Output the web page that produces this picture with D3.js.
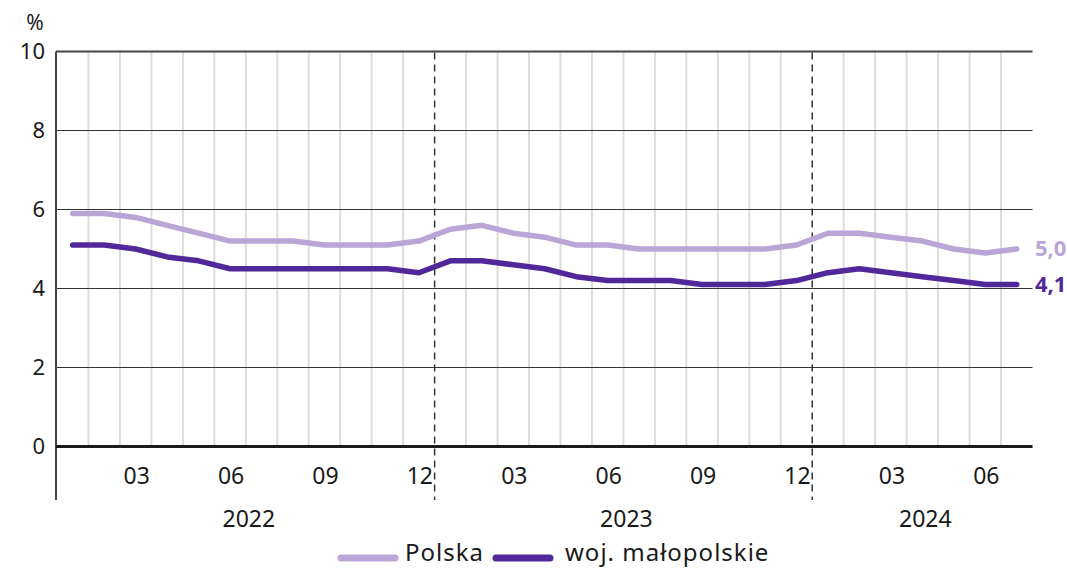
<!DOCTYPE html>
<html>
<head>
<meta charset="utf-8">
<script src="https://cdn.jsdelivr.net/npm/d3@7"></script>
<style>
  body { margin: 0; background: #fff; }
  svg { display: block; font-family: "Noto Sans", "Open Sans", sans-serif; }
</style>
</head>
<body>
<svg id="chart"></svg>
<script>
// miesiące I 2022 - VII 2024
var months = ["01","02","03","04","05","06","07","08","09","10","11","12",
              "01","02","03","04","05","06","07","08","09","10","11","12",
              "01","02","03","04","05","06","07"];
var years = ["2022","2023","2024"];
var yTicks = [0, 2, 4, 6, 8, 10];
var monthLabels = ["03","06","09","12"];

var polska = [5.9, 5.9, 5.8, 5.6, 5.4, 5.2, 5.2, 5.2, 5.1, 5.1, 5.1, 5.2,
              5.5, 5.6, 5.4, 5.3, 5.1, 5.1, 5.0, 5.0, 5.0, 5.0, 5.0, 5.1,
              5.4, 5.4, 5.3, 5.2, 5.0, 4.9, 5.0];
var malopolskie = [5.1, 5.1, 5.0, 4.8, 4.7, 4.5, 4.5, 4.5, 4.5, 4.5, 4.5, 4.4,
                   4.7, 4.7, 4.6, 4.5, 4.3, 4.2, 4.2, 4.2, 4.1, 4.1, 4.1, 4.2,
                   4.4, 4.5, 4.4, 4.3, 4.2, 4.1, 4.1];
var seriesNames = ["Polska", "woj. małopolskie"];
var colors = ["#b9a5d6", "#50289a"];

var W = 1067, H = 569;
var svg = d3.select("#chart").attr("width", W).attr("height", H);

var idx = months.map(function(d, i){ return i; });
var x = d3.scaleBand().domain(idx).range([57, 1032.5]).padding(0);
var y = d3.scaleLinear().domain([0, 10]).range([446.5, 51.5]);
var bw = x.bandwidth();

// pionowe linie miesięcy
svg.append("g").selectAll("line")
  .data(idx.slice(1).filter(function(i){ return i % 12 != 0; }))
  .enter().append("line")
  .attr("x1", function(d){ return x(d); })
  .attr("x2", function(d){ return x(d); })
  .attr("y1", y(10)).attr("y2", y(0))
  .attr("stroke", "#dcdcdc").attr("stroke-width", 2);

// poziome linie siatki
svg.append("g").selectAll("line")
  .data(yTicks.filter(function(d){ return d > 0; }))
  .enter().append("line")
  .attr("x1", 56).attr("x2", 1032.5)
  .attr("y1", function(d){ return y(d); })
  .attr("y2", function(d){ return y(d); })
  .attr("stroke", function(d){ return d == 10 ? "#444" : "#333"; })
  .attr("stroke-width", function(d){ return d == 10 ? 2 : 1; });

// linie przerywane między latami
svg.append("g").selectAll("line")
  .data([12, 24])
  .enter().append("line")
  .attr("x1", function(d){ return x(d); })
  .attr("x2", function(d){ return x(d); })
  .attr("y1", y(10) + 1).attr("y2", 500)
  .attr("stroke", "#333").attr("stroke-width", 1.5)
  .attr("stroke-dasharray", "7,5");

// oś Y
svg.append("line")
  .attr("x1", 56).attr("x2", 56).attr("y1", y(10)).attr("y2", 500)
  .attr("stroke", "#444").attr("stroke-width", 2);

// linia zera
svg.append("line")
  .attr("x1", 56).attr("x2", 1032.5).attr("y1", y(0)).attr("y2", y(0))
  .attr("stroke", "#1a1a1a").attr("stroke-width", 3);

// etykiety osi Y
svg.append("g").selectAll("text")
  .data(yTicks).enter().append("text")
  .attr("x", 45).attr("y", function(d){ return y(d); })
  .attr("dy", "0.36em")
  .attr("text-anchor", "end")
  .attr("font-size", 22).attr("fill", "#1a1a1a")
  .text(function(d){ return d; });

svg.append("text").attr("x", 35).attr("y", 30)
  .attr("text-anchor", "middle").attr("font-size", 21).attr("fill", "#1a1a1a")
  .text("%");

// etykiety miesięcy
svg.append("g").selectAll("text")
  .data(idx.filter(function(i){ return monthLabels.indexOf(months[i]) >= 0; }))
  .enter().append("text")
  .attr("x", function(d){ return x(d) + bw / 2 + 1; })
  .attr("y", 484)
  .attr("text-anchor", "middle")
  .attr("font-size", 23).attr("fill", "#1a1a1a")
  .text(function(d){ return months[d]; });

// etykiety lat
svg.append("g").selectAll("text")
  .data(years).enter().append("text")
  .attr("x", function(d, i){
    var a = x(i * 12), b = Math.min(i * 12 + 11, idx.length - 1);
    return (a + x(b) + bw) / 2 + 3;
  })
  .attr("y", 527)
  .attr("text-anchor", "middle")
  .attr("font-size", 23).attr("fill", "#1a1a1a")
  .text(function(d){ return d; });

// serie
var line = d3.line()
  .x(function(d, i){ return x(i) + bw / 2; })
  .y(function(d){ return y(d); });

[polska, malopolskie].forEach(function(s, k){
  svg.append("path")
    .datum(s)
    .attr("d", line)
    .attr("fill", "none")
    .attr("stroke", colors[k])
    .attr("stroke-width", 5.5)
    .attr("stroke-linejoin", "round")
    .attr("stroke-linecap", "round");

  var last = s[s.length - 1];
  svg.append("text")
    .attr("x", 1035).attr("y", y(last) + (k == 0 ? -1 : 0))
    .attr("dy", "0.36em")
    .attr("font-size", 22).attr("font-weight", "bold")
    .attr("fill", colors[k])
    .text(String(last.toFixed(1)).replace(".", ","));
});

// legenda
var legX = [338, 493], legTextX = [405, 565];
seriesNames.forEach(function(n, k){
  svg.append("line")
    .attr("x1", legX[k] + 3).attr("x2", legX[k] + 57)
    .attr("y1", 558).attr("y2", 558)
    .attr("stroke", colors[k]).attr("stroke-width", 7)
    .attr("stroke-linecap", "round");
  svg.append("text")
    .attr("x", legTextX[k]).attr("y", 561)
    .attr("font-size", 24).attr("letter-spacing", 1).attr("fill", "#1a1a1a")
    .text(n);
});
</script>
</body>
</html>
